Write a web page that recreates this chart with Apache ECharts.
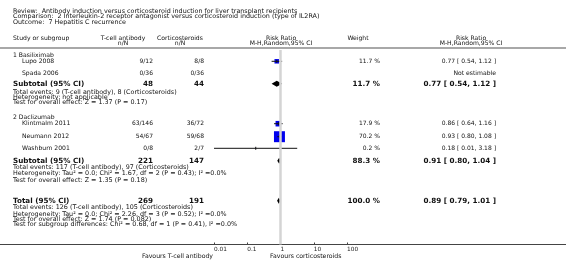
<!DOCTYPE html>
<html><head><meta charset="utf-8">
<script src="https://cdn.jsdelivr.net/npm/echarts@6/dist/echarts.min.js"></script>
<style>html,body{margin:0;padding:0;background:#fff}#c{width:566px;height:260px}</style>
</head><body><div id="c"></div>
<script>
// ---- data ----
const headerLines = [
  'Review:  Antibody induction versus corticosteroid induction for liver transplant recipients',
  'Comparison:  2 Interleukin-2 receptor antagonist versus corticosteroid induction (type of IL2RA)',
  'Outcome:  7 Hepatitis C recurrence'
];
const subgroupNames = ['1 Basiliximab', '2 Daclizumab'];
const studyNames = ['Lupo 2008', 'Spada 2006', 'Klintmalm 2011', 'Neumann 2012', 'Washburn 2001'];
const tcellEvents = [9, 0, 63, 54, 0];
const tcellTotal = [12, 36, 146, 67, 8];
const corticoEvents = [8, 0, 36, 59, 2];
const corticoTotal = [8, 36, 72, 68, 7];
const studyWeight = [11.7, null, 17.9, 70.2, 0.2];
const studyRR = [0.77, null, 0.86, 0.93, 0.18];
const studyLo = [0.54, null, 0.64, 0.80, 0.01];
const studyHi = [1.12, null, 1.16, 1.08, 3.18];

const subTcellN = [48, 221];
const subCorticoN = [44, 147];
const subWeight = [11.7, 88.3];
const subRR = [0.77, 0.91];
const subLo = [0.54, 0.80];
const subHi = [1.12, 1.04];
const subNotes = [
  ['Total events: 9 (T-cell antibody), 8 (Corticosteroids)',
   'Heterogeneity: not applicable',
   'Test for overall effect: Z = 1.37 (P = 0.17)'],
  ['Total events: 117 (T-cell antibody), 97 (Corticosteroids)',
   'Heterogeneity: Tau\u00b2 = 0.0; Chi\u00b2 = 1.67, df = 2 (P = 0.43); I\u00b2 =0.0%',
   'Test for overall effect: Z = 1.35 (P = 0.18)']
];
const totTcellN = 269, totCorticoN = 191, totWeight = 100.0;
const totRR = 0.89, totLo = 0.79, totHi = 1.01;
const totNotes = [
  'Total events: 126 (T-cell antibody), 105 (Corticosteroids)',
  'Heterogeneity: Tau\u00b2 = 0.0; Chi\u00b2 = 2.26, df = 3 (P = 0.52); I\u00b2 =0.0%',
  'Test for overall effect: Z = 1.74 (P = 0.082)',
  'Test for subgroup differences: Chi\u00b2 = 0.68, df = 1 (P = 0.41), I\u00b2 =0.0%'
];
const tickValues = [0.01, 0.1, 1, 10, 100];
const tickLabels = ['0.01', '0.1', '1', '10', '100'];
const favLeft = 'Favours T-cell antibody';
const favRight = 'Favours corticosteroids';

// ---- layout (positions / sizes) ----
const FONT = 'DejaVu Sans';
const FS = { header: 6.4, col: 6.1, row: 6.1, num: 6.0, note: 6.4, bold: 7.2, tick: 5.8, fav: 6.2 };
const layout = {
  header: [11, 16.7, 22.2],
  colHead: [38.6, 43.6],
  subHead: [55, 117.7],
  study: [61.3, 73, 123.7, 136.7, 148.3],
  subtotal: [83.7, 160.7],
  subNotes: [[92.3, 97.3, 102], [167.3, 173.7, 180]],
  total: 200.7,
  totNotes: [207.3, 214.3, 219.3, 224],
  xText: 13, xStudy: 22, xT: 153, xC: 204, xW: 380, xRR: 496
};
const fmt2 = v => v.toFixed(2);
const ciText = (r, l, h) => fmt2(r) + ' [ ' + fmt2(l) + ', ' + fmt2(h) + ' ]';

const g = [];
function txt(s, x, y, opt) {
  opt = opt || {};
  g.push({ type: 'text', x: x, y: y, silent: true, style: {
    text: s, fill: opt.color || '#111', fontFamily: FONT, fontSize: opt.size || FS.note,
    fontWeight: opt.bold ? 'bold' : 'normal',
    textAlign: opt.align || 'left', textVerticalAlign: 'middle' } });
}
headerLines.forEach((s, i) => txt(s, layout.xText, layout.header[i], { size: FS.header }));
txt('Study or subgroup', layout.xText, layout.colHead[0], { size: FS.col });
txt('T-cell antibody', 123, layout.colHead[0], { size: FS.col, align: 'center' });
txt('n/N', 123, layout.colHead[1], { size: FS.col, align: 'center' });
txt('Corticosteroids', 180, layout.colHead[0], { size: FS.col, align: 'center' });
txt('n/N', 180, layout.colHead[1], { size: FS.col, align: 'center' });
txt('Risk Ratio', 281, layout.colHead[0], { size: FS.col, align: 'center' });
txt('M-H,Random,95% CI', 281, layout.colHead[1], { size: FS.col, align: 'center' });
txt('Weight', 358, layout.colHead[0], { size: FS.col, align: 'center' });
txt('Risk Ratio', 471, layout.colHead[0], { size: FS.col, align: 'center' });
txt('M-H,Random,95% CI', 471, layout.colHead[1], { size: FS.col, align: 'center' });
g.push({ type: 'line', silent: true, shape: { x1: 0, y1: 48, x2: 566, y2: 48 }, style: { stroke: '#a8a8a8', lineWidth: 2 } });

subgroupNames.forEach((s, i) => txt(s, layout.xText, layout.subHead[i], { size: FS.row }));
studyNames.forEach((s, i) => {
  const y = layout.study[i];
  txt(s, layout.xStudy, y, { size: FS.row });
  txt(tcellEvents[i] + '/' + tcellTotal[i], layout.xT, y, { align: 'right', size: FS.num });
  txt(corticoEvents[i] + '/' + corticoTotal[i], layout.xC, y, { align: 'right', size: FS.num });
  if (studyRR[i] == null) {
    txt('Not estimable', layout.xRR, y, { align: 'right', size: FS.row });
  } else {
    txt(studyWeight[i].toFixed(1) + ' %', layout.xW, y, { align: 'right', size: FS.num });
    txt(ciText(studyRR[i], studyLo[i], studyHi[i]), layout.xRR, y, { align: 'right', size: FS.num });
  }
});
subTcellN.forEach((n, i) => {
  const y = layout.subtotal[i];
  const b = { bold: true, size: FS.bold };
  txt('Subtotal (95% CI)', layout.xText, y, b);
  txt(String(n), layout.xT, y, Object.assign({ align: 'right' }, b));
  txt(String(subCorticoN[i]), layout.xC, y, Object.assign({ align: 'right' }, b));
  txt(subWeight[i].toFixed(1) + ' %', layout.xW, y, Object.assign({ align: 'right' }, b));
  txt(ciText(subRR[i], subLo[i], subHi[i]), layout.xRR, y, Object.assign({ align: 'right' }, b));
  subNotes[i].forEach((s, j) => txt(s, layout.xText, layout.subNotes[i][j]));
});
(function () {
  const y = layout.total, b = { bold: true, size: FS.bold };
  txt('Total (95% CI)', layout.xText, y, b);
  txt(String(totTcellN), layout.xT, y, Object.assign({ align: 'right' }, b));
  txt(String(totCorticoN), layout.xC, y, Object.assign({ align: 'right' }, b));
  txt(totWeight.toFixed(1) + ' %', layout.xW, y, Object.assign({ align: 'right' }, b));
  txt(ciText(totRR, totLo, totHi), layout.xRR, y, Object.assign({ align: 'right' }, b));
  totNotes.forEach((s, j) => txt(s, layout.xText, layout.totNotes[j]));
})();
g.push({ type: 'line', silent: true, shape: { x1: 0, y1: 244.5, x2: 566, y2: 244.5 }, style: { stroke: '#444', lineWidth: 1 } });
txt(favLeft, 213, 256.8, { align: 'right', size: FS.fav });
txt(favRight, 270, 256.8, { align: 'left', size: FS.fav });

// ---- series data ----
const studyData = [];
studyNames.forEach((s, i) => { if (studyRR[i] != null) studyData.push([studyRR[i], studyLo[i], studyHi[i], layout.study[i], studyWeight[i]]); });
const diamondData = subRR.map((r, i) => [r, subLo[i], subHi[i], layout.subtotal[i]]);
diamondData.push([totRR, totLo, totHi, layout.total]);

const option = {
  animation: false,
  grid: { left: 214, width: 133, top: 50, bottom: 260 - 244.5 },
  xAxis: {
    type: 'log', logBase: 10, min: 0.01, max: 100,
    axisLine: { show: true, lineStyle: { color: '#444', width: 1 } },
    axisTick: { show: true, inside: true, length: 2, lineStyle: { color: '#444' } },
    splitLine: { show: false },
    axisLabel: { show: true, align: 'left', margin: 2, fontSize: FS.tick, fontFamily: FONT, color: '#222',
      formatter: v => { let best = 0; tickValues.forEach((t, k) => { if (Math.abs(Math.log10(t) - Math.log10(v)) < Math.abs(Math.log10(tickValues[best]) - Math.log10(v))) best = k; }); return tickLabels[best]; } }
  },
  yAxis: { type: 'value', inverse: true, min: 50, max: 244.5, show: false, splitLine: { show: false } },
  graphic: g,
  series: [
    {
      type: 'line', data: [], silent: true,
      markLine: { symbol: 'none', silent: true, label: { show: false },
        lineStyle: { color: '#d4d4d4', width: 2.5, type: 'solid' },
        data: [[{ coord: [1, 50] }, { coord: [1, 244.5] }]] }
    },
    {
      type: 'custom', data: studyData, silent: true,
      renderItem: (params, api) => {
        const y = api.value(3), w = api.value(4);
        const pE = api.coord([api.value(0), y]);
        const pL = api.coord([api.value(1), y]);
        const pH = api.coord([api.value(2), y]);
        const s = 1.31 * Math.sqrt(w);
        return { type: 'group', children: [
          { type: 'rect', shape: { x: pE[0] - s / 2, y: pE[1] - s / 2, width: s, height: s }, style: { fill: '#0000ee' } },
          { type: 'line', shape: { x1: pL[0], y1: pL[1], x2: pH[0], y2: pH[1] }, style: { stroke: '#111', lineWidth: 1 } },
          { type: 'line', shape: { x1: pE[0], y1: pE[1] - 1.5, x2: pE[0], y2: pE[1] + 1.5 }, style: { stroke: '#111', lineWidth: 1 } }
        ] };
      }
    },
    {
      type: 'custom', data: diamondData, silent: true,
      renderItem: (params, api) => {
        const y = api.value(3);
        const pE = api.coord([api.value(0), y]);
        const pL = api.coord([api.value(1), y]);
        const pH = api.coord([api.value(2), y]);
        return { type: 'polygon', shape: { points: [[pL[0], pL[1]], [pE[0], pE[1] - 3], [pH[0], pH[1]], [pE[0], pE[1] + 3]] }, style: { fill: '#000' } };
      }
    }
  ]
};
echarts.init(document.getElementById('c'), null, { renderer: 'canvas' }).setOption(option);
</script></body></html>
